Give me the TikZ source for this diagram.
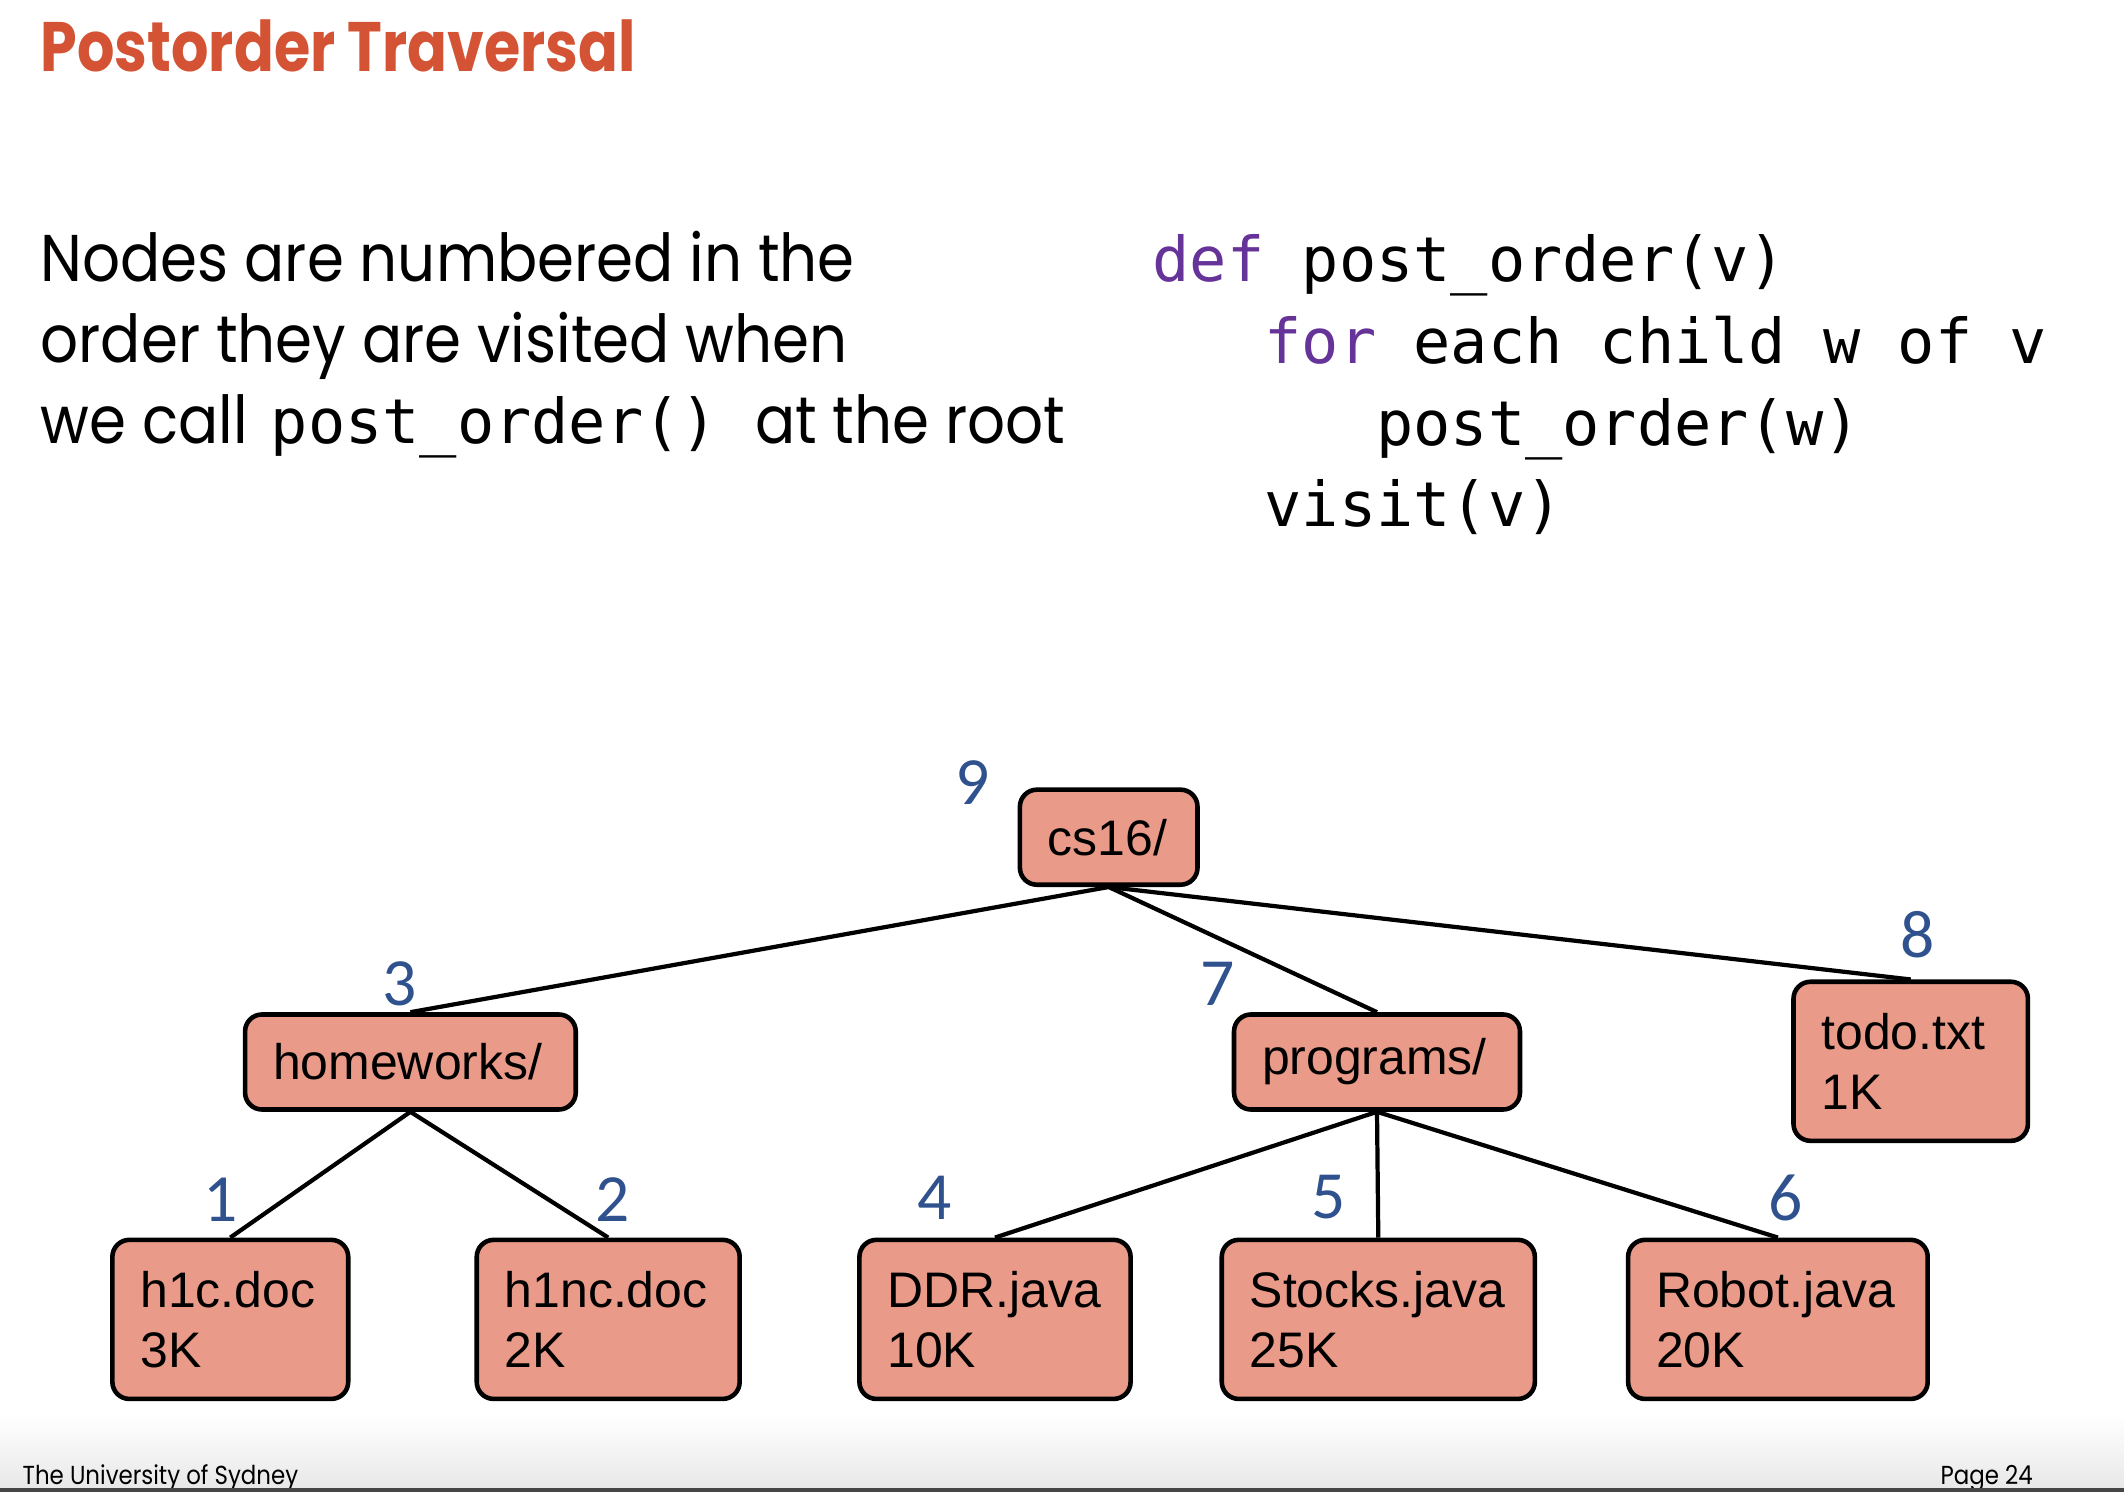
\documentclass[tikz,border=0pt]{standalone}
\usepackage{fontspec}
\setmainfont{Poppins}[FakeStretch=0.9]
\setsansfont{Liberation Sans}
\setmonofont{DejaVu Sans Mono}
\newfontfamily\numfont{Carlito}
\newfontfamily\titlefont{Poppins}[FakeStretch=0.84]
\newfontfamily\footfont{Poppins}[FakeStretch=0.88]
\usetikzlibrary{positioning}
\definecolor{usydred}{RGB}{212,83,52}
\definecolor{kwpurple}{RGB}{102,51,153}
\definecolor{numblue}{RGB}{47,82,143}
\definecolor{filesalmon}{RGB}{233,154,137}
\definecolor{footbar}{RGB}{70,70,70}

\tikzset{
  filebox/.style={draw, line width=1.3pt, rounded corners=0.17cm, fill=filesalmon,
    inner xsep=0.28cm, inner ysep=0pt, align=left, minimum height=0.95cm,
    font=\sffamily\fontsize{14.2}{17.1}\selectfont},
  twoline/.style={minimum height=1.59cm},
  visitnum/.style={text=numblue, inner sep=0pt, font=\numfont\fontsize{19.2}{20}\selectfont},
  treeedge/.style={line width=1.2pt},
  prose/.style={anchor=base west, inner sep=0pt, font=\fontsize{18.8}{23}\selectfont},
  codeline/.style={anchor=base west, inner sep=0pt, font=\ttfamily\fontsize{17.6}{23}\selectfont},
  footnote/.style={anchor=base west, inner sep=0pt, font=\footfont\fontsize{7.4}{8}\selectfont},
}

\begin{document}
\begin{tikzpicture}[x=0.01cm, y=-0.01cm]
\fill[white] (0,0) rectangle (2124,1492);
\useasboundingbox (0,0) rectangle (2124,1492);

% title
\node[anchor=base west, inner sep=0pt, text=usydred,
  font=\titlefont\bfseries\fontsize{19.9}{24}\selectfont] (title) at (40,72) {Postorder Traversal};

% explanation
\node[prose] (intro1) at (40,282) {Nodes are numbered in the};
\node[prose] (intro2) at ([yshift=-23pt]intro1.base west) {order they are visited when};
\node[prose] (intro3) at ([yshift=-23pt]intro2.base west) {we call\hspace{2pt} {\ttfamily\fontsize{17.6}{23}\selectfont post\_order() }at the root};

% pseudocode
\node[codeline] (code1) at (1152,282) {{\color{kwpurple}def} post\_order(v)};
\node[codeline] (code2) at ([yshift=-23.2pt]code1.base west) {\phantom{xxx}{\color{kwpurple}for} each child w of v};
\node[codeline] (code3) at ([yshift=-23.2pt]code2.base west) {\phantom{xxxxxx}post\_order(w)};
\node[codeline] (code4) at ([yshift=-23.2pt]code3.base west) {\phantom{xxx}visit(v)};

% file tree
\node[filebox, text width=1.215cm] (cs16) at (1108.7,837.2) {cs16/};
\node[filebox, text width=2.745cm] (homeworks) at (410.4,1062) {homeworks/};
\node[filebox, text width=2.298cm] (programs) at (1377,1062) {programs/};
\node[filebox, twoline, text width=1.783cm] (todo) at (1910.7,1061.3) {todo.txt\\1K};
\node[filebox, twoline, text width=1.797cm] (h1c) at (230.3,1319.4) {h1c.doc\\3K};
\node[filebox, twoline, text width=2.068cm] (h1nc) at (608.2,1319.4) {h1nc.doc\\2K};
\node[filebox, twoline, text width=2.15cm] (ddr) at (995,1319.4) {DDR.java\\10K};
\node[filebox, twoline, text width=2.569cm] (stocks) at (1378.3,1319.4) {Stocks.java\\25K};
\node[filebox, twoline, text width=2.434cm] (robot) at (1777.9,1319.4) {Robot.java\\20K};

\draw[treeedge] (cs16.south) -- (homeworks.north);
\draw[treeedge] (cs16.south) -- (programs.north);
\draw[treeedge] (cs16.south) -- (todo.north);
\draw[treeedge] (homeworks.south) -- (h1c.north);
\draw[treeedge] (homeworks.south) -- (h1nc.north);
\draw[treeedge] (programs.south) -- (ddr.north);
\draw[treeedge] (programs.south) -- (stocks.north);
\draw[treeedge] (programs.south) -- (robot.north);

% visit order
\node[visitnum] (v1) at (220.8,1200) {1};
\node[visitnum] (v2) at (612.3,1200) {2};
\node[visitnum] (v3) at (399.6,983.4) {3};
\node[visitnum] (v4) at (934.7,1197.5) {4};
\node[visitnum] (v5) at (1328.9,1197.5) {5};
\node[visitnum] (v6) at (1785.4,1197.5) {6};
\node[visitnum] (v7) at (1217.8,983.4) {7};
\node[visitnum] (v8) at (1918,934.7) {8};
\node[visitnum] (v9) at (972.6,783) {9};

% footer
\shade[top color=white, bottom color=black!9] (0,1415) rectangle (2124,1488);
\node[footnote] (uni) at (22,1484) {The University of Sydney};
\node[footnote] (page) at (1940,1484) {Page 24};
\fill[footbar] (0,1488) rectangle (2124,1492);
\end{tikzpicture}
\end{document}
